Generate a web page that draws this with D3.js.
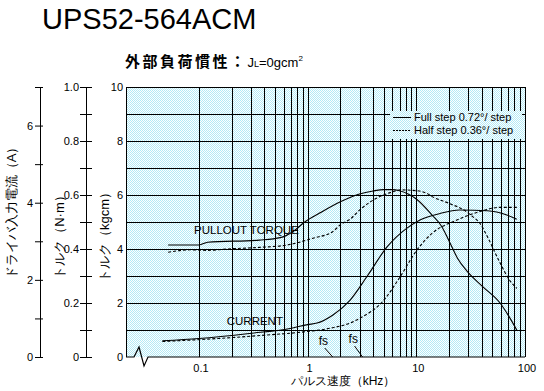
<!DOCTYPE html>
<html><head><meta charset="utf-8">
<script src="https://cdn.jsdelivr.net/npm/d3@7"></script>
<style>
body{margin:0;background:#fff}
svg{display:block}
text{font-family:"Liberation Sans",Arial,sans-serif;fill:#000}
</style>
</head><body>
<svg id="c" width="544" height="391"></svg>
<script>
// ---- data (frequency kHz, value) ----
const title = "UPS52-564ACM";
const pulloutFull = [[0.052,4.15],[0.1,4.15],[0.12,4.25],[0.36,4.33],[0.56,4.42],[0.73,4.64],[0.94,5.0],[1.3,5.34],[2.0,5.75],[3.0,6.04],[4.0,6.15],[5.0,6.2],[6.0,6.2],[7.0,6.16],[10,5.85],[14,5.25],[17,4.85],[20,4.3],[24,3.65],[29,3.2],[41,2.6],[59,2.0],[70,1.55],[84,1.0]];
const pulloutHalf = [[0.052,3.88],[0.083,3.97],[0.12,3.95],[0.18,4.0],[0.36,4.06],[0.65,4.15],[1.12,4.4],[1.7,4.64],[2.0,4.9],[2.45,5.1],[3.0,5.44],[4.3,5.88],[6.1,6.12],[7.1,6.19],[10,6.16],[12.5,6.06],[14,5.94],[20,5.69],[29,5.38],[33,5.2],[38.5,4.95],[45,4.46],[58.7,3.5],[72,2.85],[84,2.54]];
const currentFull = [[0.046,0.42],[0.1,0.48],[0.29,0.61],[0.69,0.74],[1.0,0.84],[1.22,0.88],[1.71,1.09],[2.45,1.47],[3.5,2.08],[5.4,2.86],[8.2,3.34],[10.8,3.55],[16.5,3.72],[25,3.81],[45,3.79],[68,3.68],[84,3.57]];
const currentHalf = [[0.046,0.40],[0.15,0.48],[0.42,0.57],[0.85,0.64],[1.7,0.76],[2.45,0.88],[3.0,1.0],[4.9,1.44],[7.1,2.08],[10.1,2.77],[14,3.21],[23.6,3.55],[38.5,3.77],[59,3.88],[84,3.88]];
const kgTicks = [0,2,4,6,8,10];
const nmTicks = [0,0.1,0.2,0.3,0.4,0.5,0.6,0.7,0.8,0.9,1.0];
const aTicks = [0,1,2,3,4,5,6,7];
const xLabels = [0.1,1,10,100];
const fsMarks = [1.7,3.2];

const svg = d3.select("#c");
const x = d3.scaleLog().domain([0.1,100]).range([199,525]);
const xMin = 0.0213;
const yK = d3.scaleLinear().domain([0,10]).range([357,87]);
const yN = d3.scaleLinear().domain([0,1]).range([357,87]);
const yA = d3.scaleLinear().domain([0,7]).range([357,87]);
const L = x(xMin), R = x(100), T = yK(10), B = yK(0);

// pattern
const defs = svg.append("defs");
const pat = defs.append("pattern").attr("id","dots").attr("width",2).attr("height",2).attr("patternUnits","userSpaceOnUse");
pat.append("rect").attr("width",2).attr("height",2).attr("fill","#ffffff");
pat.append("rect").attr("x",0).attr("y",0).attr("width",1).attr("height",1).attr("fill","#b4eaf6");
pat.append("rect").attr("x",1).attr("y",1).attr("width",1).attr("height",1).attr("fill","#b4eaf6");

svg.append("rect").attr("x",L).attr("y",T).attr("width",R-L).attr("height",B-T).attr("fill","url(#dots)");

// grid
const vgrid = [];
[0.1,1,10].forEach(d=>{for(let k=1;k<10;k++) vgrid.push(k*d);});
vgrid.push(100);
const g = svg.append("g").attr("stroke","#000").attr("stroke-width",1.3).attr("shape-rendering","crispEdges");
g.selectAll(".v").data(vgrid).join("line").attr("x1",d=>Math.round(x(d))+0.5).attr("x2",d=>Math.round(x(d))+0.5).attr("y1",T).attr("y2",B);
g.selectAll(".h").data(d3.range(1,11)).join("line").attr("x1",L).attr("x2",R).attr("y1",d=>Math.round(yK(d))+0.5).attr("y2",d=>Math.round(yK(d))+0.5);
g.append("line").attr("x1",L+0.5).attr("x2",L+0.5).attr("y1",T).attr("y2",B);
// bottom with axis break
svg.append("path").attr("fill","none").attr("stroke","#000").attr("stroke-width",1.2)
  .attr("d",`M${L},${B} L${L+8},${B} L${L+13},${B-10} L${L+18},${B+9} L${L+22},${B} L${R},${B}`);

// legend background
svg.append("rect").attr("x",390).attr("y",111).attr("width",132).attr("height",28).attr("fill","url(#dots)");
const lg = svg.append("g");
lg.append("line").attr("x1",393).attr("x2",411).attr("y1",117.5).attr("y2",117.5).attr("stroke","#000");
lg.append("line").attr("x1",393).attr("x2",411).attr("y1",130.5).attr("y2",130.5).attr("stroke","#000").attr("stroke-dasharray","2,1");
lg.append("text").attr("x",414).attr("y",121).attr("font-size",11).text("Full step 0.72°/ step");
lg.append("text").attr("x",414).attr("y",134).attr("font-size",11).text("Half step 0.36°/ step");

// curves
const lineK = d3.line().x(d=>x(d[0])).y(d=>yK(d[1])).curve(d3.curveMonotoneX);
const lineA = d3.line().x(d=>x(d[0])).y(d=>yA(d[1])).curve(d3.curveMonotoneX);
const cg = svg.append("g").attr("fill","none").attr("stroke","#000").attr("stroke-width",1.1);
cg.append("path").attr("d",lineK(pulloutFull));
cg.append("path").attr("d",lineK(pulloutHalf)).attr("stroke-dasharray","3,2");
cg.append("path").attr("d",lineA(currentFull));
cg.append("path").attr("d",lineA(currentHalf)).attr("stroke-dasharray","3,2");

// annotations
const mono = `"DejaVu Sans Mono",monospace`;
svg.append("text").attr("x",x(0.09)).attr("y",yK(4.55)).attr("font-family",mono).attr("font-size",11.5).text("PULLOUT TORQUE");
svg.append("text").attr("x",x(0.18)).attr("y",yK(1.2)).attr("font-family",mono).attr("font-size",11.5).text("CURRENT");
fsMarks.forEach((f,i)=>{
  const xe = x(f);
  svg.append("text").attr("x",xe-14).attr("y",B-12+(i?-2:0)).attr("font-size",12).text("fs");
  svg.append("line").attr("x1",xe-8).attr("y1",B-9+(i?-2:0)).attr("x2",xe).attr("y2",B).attr("stroke","#000");
});

// kgcm labels
svg.selectAll(".kl").data(kgTicks).join("text").attr("x",L-3).attr("y",d=>yK(d)+4).attr("text-anchor","end").attr("font-size",11).text(d=>d);

// N·m axis
const axN = svg.append("g").attr("transform","translate(86,0)").call(d3.axisLeft(yN).tickValues(nmTicks).tickSize(6).tickFormat(d=>(Math.round(d*10)%2===0)?(d===0?"0":d3.format(".1f")(d)):""));
axN.select(".domain").attr("d",`M0.5,${T}V${B}`);
axN.selectAll(".tick line").attr("x1",6);
axN.selectAll("text").attr("font-size",11).attr("font-family","Liberation Sans, Arial").attr("x",-7);

// A axis
const axA = svg.append("g").attr("transform","translate(40,0)").call(d3.axisLeft(yA).tickValues(aTicks).tickSize(5).tickFormat(d=>d%2===0?d:""));
axA.select(".domain").attr("d",`M0.5,${T}V${B}`);
axA.selectAll(".tick line").attr("x1",3);
axA.selectAll("text").attr("font-size",11).attr("font-family","Liberation Sans, Arial").attr("x",-7);

// x labels
svg.selectAll(".xl").data(xLabels).join("text").attr("x",d=>x(d)+2).attr("y",372).attr("text-anchor","middle").attr("font-size",11).text(d=>d);

// axis titles
const jp = `"Noto Sans CJK JP",sans-serif`;
svg.append("text").attr("x",343).attr("y",385).attr("text-anchor","middle").attr("font-family",jp).attr("font-size",12).text("パルス速度（kHz）");
svg.append("text").attr("transform","translate(16,210) rotate(-90)").attr("text-anchor","middle").attr("font-family",jp).attr("font-size",13).text("ドライバ入力電流（A）");
svg.append("text").attr("transform","translate(64,234) rotate(-90)").attr("text-anchor","middle").attr("font-family",jp).attr("font-size",13).text("トルク（N·m）");
svg.append("text").attr("transform","translate(109,234) rotate(-90)").attr("text-anchor","middle").attr("font-family",jp).attr("font-size",13).text("トルク（kgcm）");

// titles
svg.append("text").attr("x",42).attr("y",28.5).attr("font-size",29).text(title);
const st = svg.append("text").attr("x",125).attr("y",67);
st.append("tspan").attr("font-family",jp).attr("font-weight","bold").attr("font-size",15).attr("letter-spacing",2.5).text("外部負荷慣性：");
st.append("tspan").attr("font-size",13).text("J");
st.append("tspan").attr("font-size",9).text("L");
st.append("tspan").attr("font-size",13).text("=0gcm");
st.append("tspan").attr("font-size",8).attr("dy",-6).text("2");
</script>
</body></html>
